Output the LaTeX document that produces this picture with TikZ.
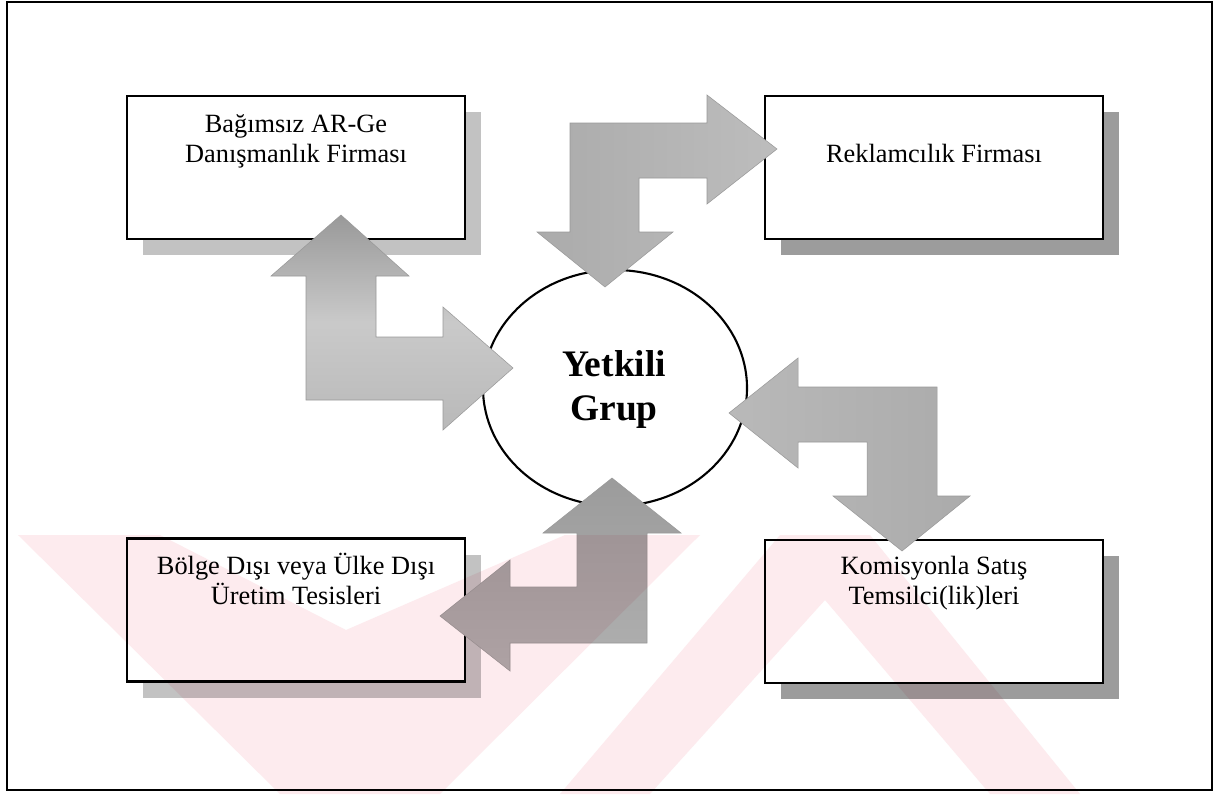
\documentclass[tikz,border=0pt]{standalone}
\usepackage{fontspec}
\setmainfont{Liberation Serif}
\usetikzlibrary{shapes.geometric,shadows}
% one drawing unit = one pixel of the 1226 x 794 sheet
\newlength\pxu
\setlength\pxu{0.02cm}
\definecolor{stamp}{HTML}{FDEBEE}
\begin{document}
\begin{tikzpicture}[x=0.02cm, y=-0.02cm,
  frame/.style={draw=black, line width=1.1pt},
  firmbox/.style={draw=black, line width=1.2pt, fill=white,
    minimum width=338\pxu, minimum height=143\pxu, inner sep=0pt},
  lightshadow/.style={drop shadow={shadow xshift=16\pxu, shadow yshift=-16\pxu,
    fill=gray!48, opacity=1}},
  darkshadow/.style={drop shadow={shadow xshift=16\pxu, shadow yshift=-16\pxu,
    fill=gray!78, opacity=1}},
  group/.style={draw=black, line width=1.2pt, fill=white, ellipse,
    minimum width=264\pxu, minimum height=236\pxu, inner sep=0pt},
  blockarrow/.style={draw=gray!80, line width=0.3pt},
  firmtext/.style={font=\fontsize{15}{17.3}\selectfont, align=center, inner sep=0pt},
  grouptext/.style={font=\fontsize{21.3}{24.5}\selectfont\bfseries, align=center, inner sep=0pt},
  stampband/.style={fill=stamp}
]
\useasboundingbox (0,0) rectangle (1226,794);
\fill[white] (0,0) rectangle (1226,794);
\draw[frame] (7,2) rectangle (1212,790);

% the four partner firms
\node[firmbox, lightshadow] (arge) at (296,167.5) {};
\node[firmbox, darkshadow]  (rekl) at (934,167.5) {};
\node[firmbox, lightshadow] (uret) at (296,610) {};
\node[firmbox, darkshadow]  (komi) at (934,611.5) {};

% the central group
\node[group] (grup) at (615,388) {};

% bent double arrows between the group and each firm
\path[blockarrow, top color=gray!80, bottom color=gray!55, middle color=gray!42]
  (341,215) -- (409,276) -- (376,276) -- (376,337) -- (443,337) -- (443,307)
  -- (513,368) -- (443,430) -- (443,400) -- (306,400) -- (306,276) -- (271,276) -- cycle;
\path[blockarrow, left color=gray!66, right color=gray!52]
  (777,149) -- (707,95) -- (707,123) -- (570,123) -- (570,232) -- (537,232)
  -- (605,287) -- (673,232) -- (639,232) -- (639,178) -- (707,178) -- (707,204) -- cycle;
\path[blockarrow, left color=gray!55, right color=gray!66]
  (729,413) -- (798,358) -- (798,387) -- (937,387) -- (937,496) -- (970,496)
  -- (902,551) -- (833,496) -- (867,496) -- (867,442) -- (798,442) -- (798,468) -- cycle;
\path[blockarrow, top color=gray!78, bottom color=gray!62]
  (612,478) -- (681,533) -- (647,533) -- (647,643) -- (510,643) -- (510,671)
  -- (440,616) -- (510,560) -- (510,587) -- (577,587) -- (577,533) -- (543,533) -- cycle;

% labels (a multi-line node sits on the baseline of its last line)
\node[firmtext, anchor=base] (arge-t) at (296,162.5) {Bağımsız AR-Ge\\Danışmanlık Firması};
\node[firmtext, anchor=base] (rekl-t) at (934,162) {Reklamcılık Firması};
\node[firmtext, anchor=base] (uret-t) at (296,604.5) {Bölge Dışı veya Ülke Dışı\\Üretim Tesisleri};
\node[firmtext, anchor=base] (komi-t) at (934,604.5) {Komisyonla Satış\\Temsilci(lik)leri};
\node[grouptext, anchor=base] (grup-t) at (614,420) {Yetkili\\Grup};

% faint stamp across the lower part of the sheet, tinting what lies beneath
\begin{scope}[blend mode=multiply]
\fill[stampband] (18,535) -- (160,535) -- (346,630) -- (565,535) -- (700,535)
  -- (440,794) -- (280,794) -- cycle;
\fill[stampband] (560,794) -- (780,535) -- (870,535) -- (1080,794) -- (990,794)
  -- (825,600) -- (650,794) -- cycle;
\end{scope}
\end{tikzpicture}
\end{document}
